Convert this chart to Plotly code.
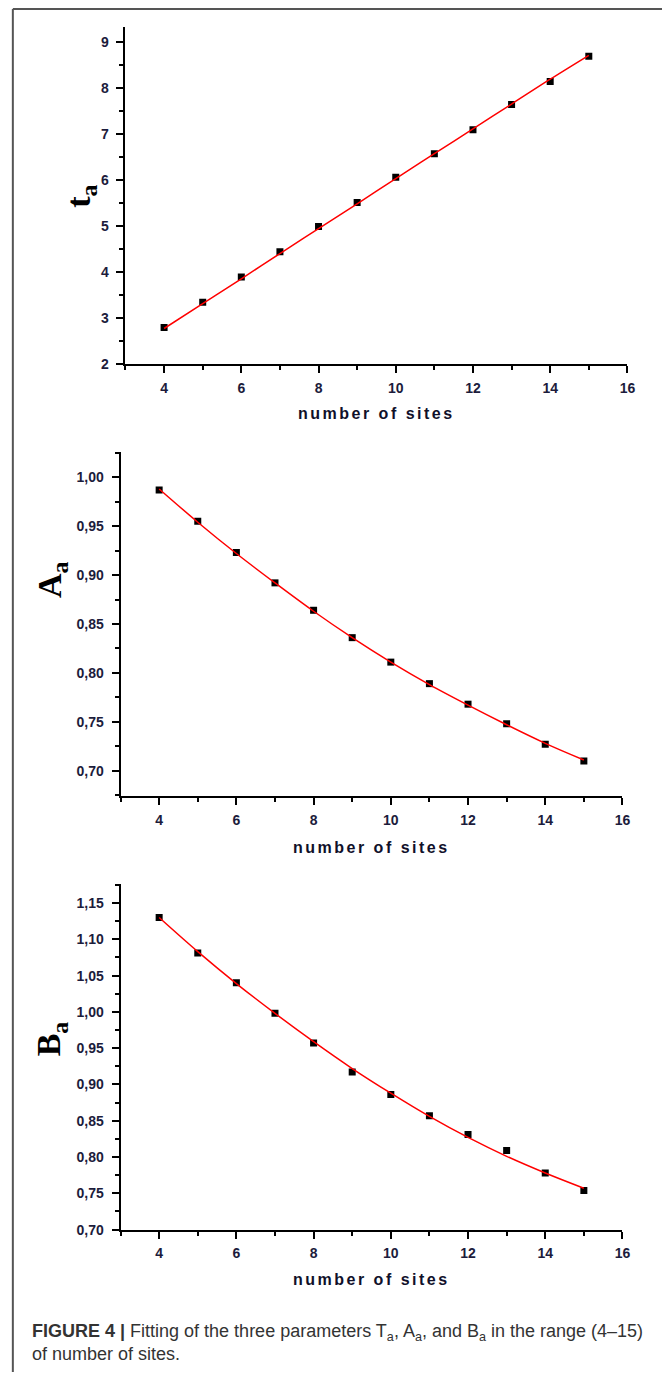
import plotly.graph_objects as go

W, H = 670, 1380

# ---------------- data ----------------
sites = [4, 5, 6, 7, 8, 9, 10, 11, 12, 13, 14, 15]

t_a = [2.80, 3.35, 3.90, 4.45, 5.00, 5.52, 6.07, 6.58, 7.10, 7.65, 8.15, 8.70]
t_a_fit = [2.78, 3.32, 3.86, 4.41, 4.95, 5.49, 6.04, 6.58, 7.12, 7.66, 8.20, 8.72]

A_a = [0.987, 0.955, 0.923, 0.892, 0.864, 0.836, 0.811, 0.789, 0.768, 0.748, 0.727, 0.710]
A_a_fit = [0.988, 0.954, 0.922, 0.892, 0.863, 0.836, 0.811, 0.788, 0.767, 0.747, 0.728, 0.711]

B_a = [1.130, 1.081, 1.040, 0.998, 0.957, 0.917, 0.886, 0.857, 0.831, 0.809, 0.778, 0.754]
B_a_fit = [1.130, 1.083, 1.039, 0.998, 0.959, 0.922, 0.888, 0.856, 0.827, 0.801, 0.778, 0.757]

y_titles = ["t<sub>a</sub>", "A<sub>a</sub>", "B<sub>a</sub>"]
x_title = "number of sites"
caption = ("<b>FIGURE 4 |</b> Fitting of the three parameters T<sub>a</sub>, A<sub>a</sub>, "
           "and B<sub>a</sub> in the range (4–15)<br>of number of sites.")


def px(xp):
    return xp / W


def py(yp):
    return 1 - yp / H


# panel geometry in pixels: (x_left, x_right, y_top, y_bottom)
panels = [
    dict(x0=127, x1=635, y0=26.7, y1=366.5, yr=[2, 9.345], dtick=1, minor=0.5, tick0=2, fmt="d",
         data=t_a, fit=t_a_fit),
    dict(x0=122, x1=630, y0=454.4, y1=800.8, yr=[0.674, 1.026], dtick=0.05, minor=0.025, tick0=0.7, fmt=".2f",
         data=A_a, fit=A_a_fit),
    dict(x0=122, x1=630, y0=889.3, y1=1236.8, yr=[0.70, 1.176], dtick=0.05, minor=0.025, tick0=0.7, fmt=".2f",
         data=B_a, fit=B_a_fit),
]

tick_font = dict(family="Liberation Sans", size=14, color="#1c1c3c", weight="bold")

fig = go.Figure()
layout = dict(
    width=W, height=H,
    margin=dict(l=0, r=0, t=0, b=0),
    paper_bgcolor="white", plot_bgcolor="white",
    showlegend=False,
    separators=",.",
    annotations=[], shapes=[],
)

for i, p in enumerate(panels):
    n = "" if i == 0 else str(i + 1)
    xa, ya = "x" + n, "y" + n
    fig.add_trace(go.Scatter(x=sites, y=p["data"], mode="markers",
                             marker=dict(symbol="square", size=7, color="black"),
                             xaxis=xa, yaxis=ya))
    fig.add_trace(go.Scatter(x=sites, y=p["fit"], mode="lines",
                             line=dict(color="#ff0000", width=1.5, shape="spline"),
                             xaxis=xa, yaxis=ya))
    layout["xaxis" + n] = dict(
        domain=[px(p["x0"]), px(p["x1"])], range=[3, 16], anchor=ya,
        showgrid=False, zeroline=False, showline=True, linecolor="black", linewidth=2,
        ticks="outside", ticklen=7, tickwidth=2, tickcolor="black",
        tick0=4, dtick=2, tickfont=tick_font, ticklabelstandoff=3,
        minor=dict(ticks="outside", ticklen=4, tickwidth=2, tickcolor="black", dtick=1, tick0=3, showgrid=False),
    )
    layout["yaxis" + n] = dict(
        domain=[py(p["y1"]), py(p["y0"])], range=p["yr"], anchor=xa,
        showgrid=False, zeroline=False, showline=True, linecolor="black", linewidth=2,
        ticks="outside", ticklen=7, tickwidth=2, tickcolor="black",
        tick0=p["tick0"], dtick=p["dtick"], tickformat=p["fmt"], tickfont=tick_font, ticklabelstandoff=5,
        minor=dict(ticks="outside", ticklen=4, tickwidth=2, tickcolor="black", dtick=p["minor"], showgrid=False),
    )

# y-axis titles (rotated serif)
ytitle_pos = [(82, 198), (52, 583), (52, 1045)]
for (xp, yp), t in zip(ytitle_pos, y_titles):
    layout["annotations"].append(dict(
        text=t, x=px(xp), y=py(yp), xref="paper", yref="paper",
        xanchor="center", yanchor="middle", textangle=-90, showarrow=False,
        font=dict(family="Liberation Serif", size=34, color="black", weight="bold")))

# x-axis titles
xtitle_pos = [(381, 416), (376, 852), (376, 1287)]
for xp, yp in xtitle_pos:
    layout["annotations"].append(dict(
        text='<span style="letter-spacing:2.5px">' + x_title + '</span>',
        x=px(xp), y=py(yp), xref="paper", yref="paper",
        xanchor="center", yanchor="middle", showarrow=False,
        font=dict(family="Liberation Sans", size=16, color="#10102a", weight="bold")))

# caption
layout["annotations"].append(dict(
    text=caption, x=px(30), y=py(1350), xref="paper", yref="paper",
    xanchor="left", yanchor="middle", align="left", showarrow=False,
    font=dict(family="Liberation Sans", size=18, color="#333333")))

# frame lines (top and left)
layout["shapes"].append(dict(type="line", xref="paper", yref="paper",
                             x0=px(13), x1=1, y0=py(9), y1=py(9),
                             line=dict(color="#555555", width=2)))
layout["shapes"].append(dict(type="line", xref="paper", yref="paper",
                             x0=px(13), x1=px(13), y0=py(9), y1=0,
                             line=dict(color="#555555", width=2)))

fig.update_layout(**layout)
fig.write_html("out.html")
